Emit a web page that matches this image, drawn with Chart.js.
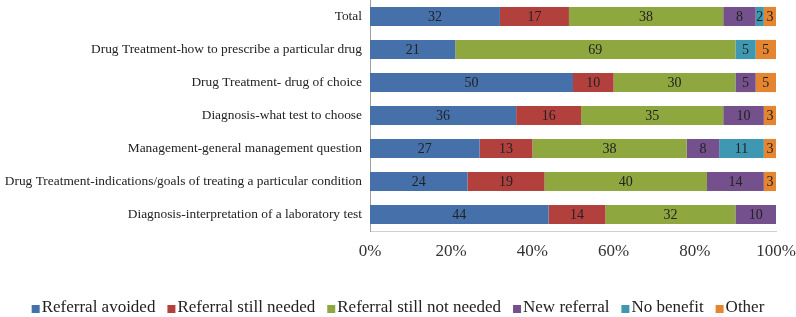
<!DOCTYPE html>
<html>
<head>
<meta charset="utf-8">
<script src="https://cdn.jsdelivr.net/npm/chart.js@4.4.0/dist/chart.umd.min.js"></script>
<style>
  html, body { margin: 0; padding: 0; background: #fff; }
  #wrap { width: 796px; height: 317px; }
</style>
</head>
<body>
<div id="wrap"><canvas id="grafico"></canvas></div>
<script>
const categorias = [
  "Total",
  "Drug Treatment-how to prescribe a particular drug",
  "Drug Treatment- drug of choice",
  "Diagnosis-what test to choose",
  "Management-general management question",
  "Drug Treatment-indications/goals of treating a particular condition",
  "Diagnosis-interpretation of a laboratory test"
];

const referralAvoided     = [32, 21, 50, 36, 27, 24, 44];
const referralStillNeeded = [17, 0, 10, 16, 13, 19, 14];
const referralNotNeeded   = [38, 69, 30, 35, 38, 40, 32];
const newReferral         = [8, 0, 5, 10, 8, 14, 10];
const noBenefit           = [2, 5, 0, 0, 11, 0, 0];
const other               = [3, 5, 5, 3, 3, 3, 0];

const xTicks = ["0%", "20%", "40%", "60%", "80%", "100%"];

const fuente = "'Liberation Serif', 'DejaVu Serif', serif";

// etiquetas dentro de cada segmento
const etiquetasBarras = {
  id: "etiquetasBarras",
  afterDatasetsDraw(chart) {
    const ctx = chart.ctx;
    ctx.save();
    ctx.font = "14px " + fuente;
    ctx.fillStyle = "#222";
    ctx.textAlign = "center";
    ctx.textBaseline = "middle";
    chart.data.datasets.forEach((ds, i) => {
      const meta = chart.getDatasetMeta(i);
      meta.data.forEach((bar, j) => {
        const v = ds.data[j];
        if (!v) return;
        ctx.fillText(String(v), (bar.x + bar.base) / 2, bar.y + 1);
      });
    });
    ctx.restore();
  }
};

// leyenda dibujada a mano: cuadro pegado al texto, como en Excel
const leyenda = {
  id: "leyenda",
  afterDraw(chart) {
    const ctx = chart.ctx;
    const caja = 8, hueco = 2, sep = 12;
    ctx.save();
    ctx.font = "17px " + fuente;
    ctx.textBaseline = "middle";
    const items = chart.data.datasets.map(ds => ({
      texto: ds.label,
      color: ds.backgroundColor,
      ancho: caja + hueco + ctx.measureText(ds.label).width
    }));
    const total = items.reduce((s, it) => s + it.ancho, 0) + sep * (items.length - 1);
    let x = (chart.width - total) / 2;
    const y = 308;
    items.forEach(it => {
      ctx.fillStyle = it.color;
      ctx.fillRect(x, y - caja / 2 + 1, caja, caja);
      ctx.fillStyle = "#222";
      ctx.textAlign = "left";
      ctx.fillText(it.texto, x + caja + hueco, y);
      x += it.ancho + sep;
    });
    ctx.restore();
  }
};

const ctx = document.getElementById("grafico").getContext("2d");

new Chart(ctx, {
  type: "bar",
  data: {
    labels: categorias,
    datasets: [
      { label: "Referral avoided", data: referralAvoided, backgroundColor: "#4670AA" },
      { label: "Referral still needed", data: referralStillNeeded, backgroundColor: "#B2413E" },
      { label: "Referral still not needed", data: referralNotNeeded, backgroundColor: "#8EA73F" },
      { label: "New referral", data: newReferral, backgroundColor: "#74518C" },
      { label: "No benefit", data: noBenefit, backgroundColor: "#3F98B2" },
      { label: "Other", data: other, backgroundColor: "#E5852F" }
    ]
  },
  options: {
    indexAxis: "y",
    responsive: true,
    maintainAspectRatio: false,
    animation: false,
    layout: { padding: 0 },
    datasets: {
      bar: { categoryPercentage: 1, barPercentage: 0.58, borderWidth: 0 }
    },
    plugins: {
      legend: { display: false },
      tooltip: { enabled: false }
    },
    scales: {
      x: {
        stacked: true,
        min: 0,
        max: 100,
        grid: { display: false, drawTicks: false },
        border: { display: true, color: "#d0d0d0" },
        ticks: {
          stepSize: 20,
          font: { family: fuente, size: 17 },
          color: "#333",
          padding: 10,
          callback: (v, i) => xTicks[i]
        },
        afterFit(scale) {
          scale.height = 86;
          scale.paddingLeft = 0;
          scale.paddingRight = 20;
        }
      },
      y: {
        stacked: true,
        grid: { display: false, drawTicks: false },
        border: { display: true, color: "#a0a0a0" },
        ticks: {
          font: { family: fuente, size: 13.4 },
          color: "#222",
          padding: 8
        },
        afterFit(scale) {
          scale.width = 370;
          scale.paddingTop = 0;
          scale.paddingBottom = 0;
        }
      }
    }
  },
  plugins: [etiquetasBarras, leyenda]
});
</script>
</body>
</html>
